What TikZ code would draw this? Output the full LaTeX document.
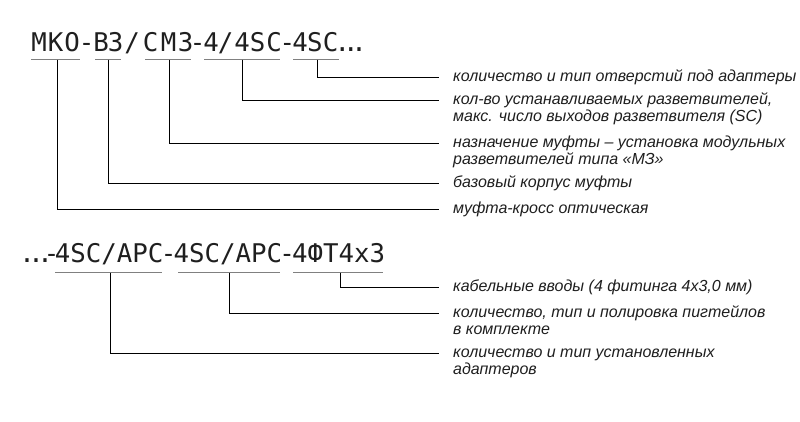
\documentclass[tikz,border=0pt]{standalone}
\usepackage{fontspec}
\setmainfont{Liberation Sans}
\newfontfamily\codefont{DejaVu Sans Mono}
\def\k#1{\kern#1pt}
\newcommand\twol[2]{\vtop{\hbox{#1}\hbox{#2}}}
\begin{document}
\begin{tikzpicture}[x=1pt,y=-1pt,
  codetext/.style={anchor=base west,inner sep=0pt,text=black!88,font=\codefont\fontsize{25.75}{28}\selectfont},
  lbl/.style={anchor=base west,inner sep=0pt,text=black!88,font=\fontsize{16}{17.6}\selectfont\itshape},
  uline/.style={draw=black!50,line width=1.3pt},
  conn/.style={draw=black,line width=0.9pt}]
\useasboundingbox (0,0) rectangle (800,421);
\fill[white] (0,0) rectangle (800,421);

% ---- top code ----
\node[codetext] (ctop) at (31.25,51) {М\k{1}К\k{1}О\k{-1}-\k{-1}В\k{-1}З\k{1}/\k{3}С\k{2.5}М\k{1.5}З\k{-3.5}-\k{-2}4\k{-1}/\k{1}4S\k{1}C\k{-2.5}-\k{-2.5}4\k{-1}S\k{.5}C\k{-4}.\k{-7}.\k{-7}.};

% underline segments (top)
\draw[uline] (31,59.5) -- (80,59.5);
\draw[uline] (95,59.5) -- (121,59.5);
\draw[uline] (145,59.5) -- (191,59.5);
\draw[uline] (204,59.5) -- (280,59.5);
\draw[uline] (293,59.5) -- (339,59.5);
\coordinate (t1) at (57,59.5);
\coordinate (t2) at (108,59.5);
\coordinate (t3) at (169,59.5);
\coordinate (t4) at (242,59.5);
\coordinate (t5) at (317,59.5);

% labels (top)
\node[lbl] (l5) at (453,81.5) {количество и тип отверстий под адаптеры};
\node[lbl] (l4) at (453,104) {\twol{кол-во устанавливаемых разветвителей,}{макс. число выходов разветвителя (SC)}};
\node[lbl] (l3) at (453,147) {\twol{назначение муфты – установка модульных}{разветвителей типа «МЗ»}};
\node[lbl] (l2) at (453,187) {базовый корпус муфты};
\node[lbl] (l1) at (453,213) {муфта-кросс оптическая};

\coordinate (e5) at (439,77.5);
\coordinate (e4) at (439,100);
\coordinate (e3) at (439,143);
\coordinate (e2) at (439,183);
\coordinate (e1) at (439,209);

\draw[conn] (t1) |- (e1);
\draw[conn] (t2) |- (e2);
\draw[conn] (t3) |- (e3);
\draw[conn] (t4) |- (e4);
\draw[conn] (t5) |- (e5);

% ---- bottom code ----
\node[codetext] (cbot) at (19.25,262) {.\k{-6.5}.\k{-6.5}.\k{-9}-\k{-4.5}4SC/APC\k{-2.7}-\k{-2.7}4SC/APC\k{-2.7}-\k{-2.7}4ФТ4х3};

\draw[uline] (55,272.5) -- (162,272.5);
\draw[uline] (178,272.5) -- (280,272.5);
\draw[uline] (293,272.5) -- (383,272.5);
\coordinate (b1) at (110,272.5);
\coordinate (b2) at (229.5,272.5);
\coordinate (b3) at (340,272.5);

\node[lbl] (m3) at (453,291) {кабельные вводы (4 фитинга 4х3,0 мм)};
\node[lbl] (m2) at (453,317) {\twol{количество, тип и полировка пигтейлов}{в комплекте}};
\node[lbl] (m1) at (453,357) {\twol{количество и тип установленных}{адаптеров}};

\coordinate (f3) at (439,287);
\coordinate (f2) at (439,313);
\coordinate (f1) at (439,353);

\draw[conn] (b1) |- (f1);
\draw[conn] (b2) |- (f2);
\draw[conn] (b3) |- (f3);
\end{tikzpicture}
\end{document}
